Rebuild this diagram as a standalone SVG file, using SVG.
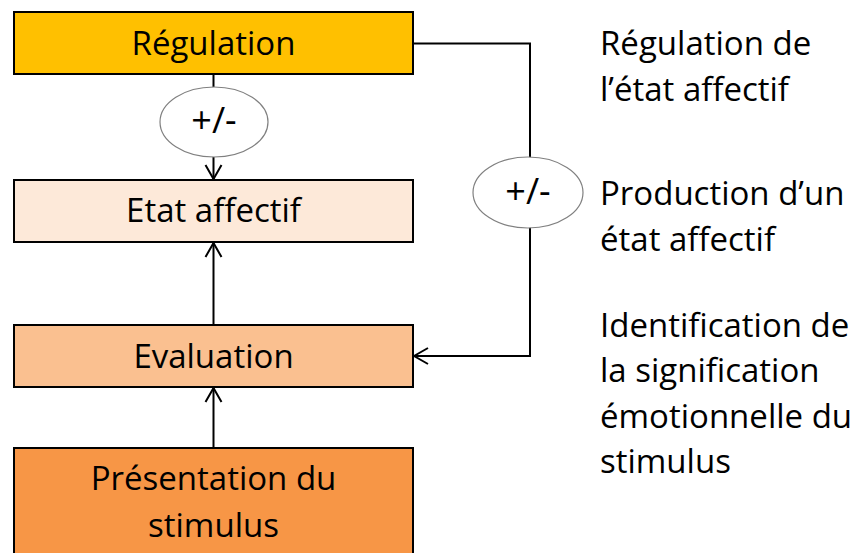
<svg xmlns="http://www.w3.org/2000/svg" width="861" height="553" viewBox="0 0 861 553">
<style>
  .box { stroke: #000; stroke-width: 2; }
  .oval { fill: #fff; stroke: #808080; stroke-width: 1.2; }
  .lbl { font-family: "Open Sans", "Liberation Sans", sans-serif; font-size: 33px; fill: #000; }
  .pm { font-size: 36px; }
  .mid { text-anchor: middle; }
  .conn { fill: none; stroke: #000; stroke-width: 2; }
</style>
<defs>
  <marker id="arr" markerUnits="userSpaceOnUse" markerWidth="16" markerHeight="20" viewBox="0 0 16 20" refX="15" refY="10" orient="auto">
    <path d="M1,2 L15,10 L1,18" fill="none" stroke="#000" stroke-width="2"/>
  </marker>
</defs>
<g id="connectors">
  <path class="conn" d="M213.5,74 L213.5,179" marker-end="url(#arr)"/>
  <path class="conn" d="M213.5,325 L213.5,243" marker-end="url(#arr)"/>
  <path class="conn" d="M213.5,448 L213.5,388" marker-end="url(#arr)"/>
  <path class="conn" d="M413,43.5 L530,43.5 L530,356 L414,356" marker-end="url(#arr)"/>
</g>
<g id="regulation">
  <rect class="box" x="14" y="12" width="399" height="62" fill="#FFC000"/>
  <text class="lbl mid" x="213.5" y="55">Régulation</text>
</g>
<g id="etat">
  <rect class="box" x="14" y="180" width="399" height="62" fill="#FDE9D9"/>
  <text class="lbl mid" x="213.5" y="222">Etat affectif</text>
</g>
<g id="evaluation">
  <rect class="box" x="14" y="325" width="399" height="62" fill="#FAC090"/>
  <text class="lbl mid" x="213.5" y="368">Evaluation</text>
</g>
<g id="presentation">
  <rect class="box" x="14" y="448" width="399" height="115" fill="#F79646"/>
  <text class="lbl mid" x="213.5" y="490">Présentation du</text>
  <text class="lbl mid" x="213.5" y="537">stimulus</text>
</g>
<g id="mod1">
  <ellipse class="oval" cx="214" cy="122" rx="54" ry="35"/>
  <text class="lbl pm mid" x="214" y="133">+/-</text>
</g>
<g id="mod2">
  <ellipse class="oval" cx="528" cy="192.5" rx="55" ry="35.5"/>
  <text class="lbl pm mid" x="528" y="204">+/-</text>
</g>
<g id="notes">
  <text class="lbl" x="600" y="55">Régulation de</text>
  <text class="lbl" x="600" y="101">l’état affectif</text>
  <text class="lbl" x="600" y="205">Production d’un</text>
  <text class="lbl" x="600" y="251">état affectif</text>
  <text class="lbl" x="600" y="337">Identification de</text>
  <text class="lbl" x="600" y="382">la signification</text>
  <text class="lbl" x="600" y="428">émotionnelle du</text>
  <text class="lbl" x="600" y="473">stimulus</text>
</g>
</svg>
